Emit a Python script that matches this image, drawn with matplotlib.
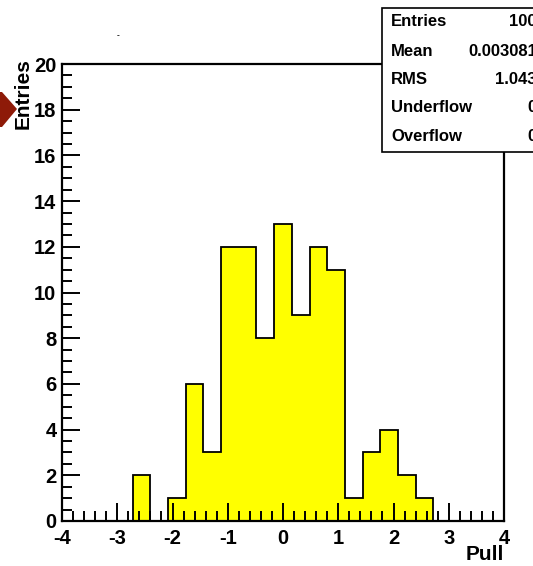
import matplotlib.pyplot as plt
import numpy as np
from matplotlib.patches import Polygon, Rectangle
from matplotlib.ticker import MultipleLocator

plt.rcParams['font.family'] = ['Liberation Sans', 'DejaVu Sans']
plt.rcParams['font.weight'] = 'bold'
plt.rcParams['axes.unicode_minus'] = False

# histogram: 25 bins from -4 to 4
bin_edges = np.linspace(-4, 4, 26)
counts = [0, 0, 0, 0, 2, 0, 1, 6, 3, 12, 12, 8, 13, 9, 12, 11, 1, 3, 4, 2, 1, 0, 0, 0, 0]

stat_names = ['Entries', 'Mean', 'RMS', 'Underflow', 'Overflow']
stat_values = ['100', '0.003081', '1.043', '0', '0']

W, H = 533, 566
fig = plt.figure(figsize=(W / 100, H / 100), dpi=100)
ax = fig.add_axes([62 / W, 1 - 521 / H, (504 - 62) / W, (521 - 64) / H])

ax.stairs(counts, bin_edges, fill=True, color='#ffff00', baseline=0)
ax.stairs(counts, bin_edges, color='black', linewidth=1.3, baseline=0)

ax.set_xlim(-4, 4)
ax.set_ylim(0, 20)
ax.xaxis.set_major_locator(MultipleLocator(1))
ax.xaxis.set_minor_locator(MultipleLocator(0.2))
ax.yaxis.set_major_locator(MultipleLocator(2))
ax.yaxis.set_minor_locator(MultipleLocator(0.5))
ax.tick_params(which='both', direction='in', top=False, right=False, width=1.4,
               labelsize=14.5)
ax.tick_params(which='major', length=13)
ax.tick_params(which='minor', length=7)
ax.tick_params(axis='x', pad=6)
ax.tick_params(axis='y', pad=4)
for lab in ax.get_xticklabels() + ax.get_yticklabels():
    lab.set_fontweight('bold')
for s in ax.spines.values():
    s.set_linewidth(1.6)

fig.text(504 / W, 1 - 555 / H, 'Pull', ha='right', va='center', fontsize=15, fontweight='bold')
fig.text(23 / W, 1 - 58 / H, 'Entries', ha='center', va='top', rotation=90,
         fontsize=15, fontweight='bold')

# red arrow marker at left
arrow = Polygon([(0, 1 - 92 / H), (2 / W, 1 - 92 / H), (17 / W, 1 - 109 / H),
                 (2 / W, 1 - 127 / H), (0, 1 - 127 / H)],
                closed=True, transform=fig.transFigure, facecolor='#8e1a08',
                edgecolor='none')
fig.patches.append(arrow)

# tiny mark near the top
fig.text(118 / W, 1 - 36 / H, '-', ha='center', va='center', fontsize=6)

# stats box
box = Rectangle((382 / W, 1 - 152 / H), (W + 20 - 382) / W, (152 - 8) / H,
                transform=fig.transFigure, facecolor='white', edgecolor='black',
                linewidth=1.2, zorder=5)
fig.patches.append(box)
row_y = [22, 51, 80, 108, 137]
for name, val, y in zip(stat_names, stat_values, row_y):
    fig.text(391 / W, 1 - y / H, name, ha='left', va='center', fontsize=12,
             fontweight='bold', zorder=6)
    fig.text(537 / W, 1 - y / H, val, ha='right', va='center', fontsize=12,
             fontweight='bold', zorder=6)

fig.savefig('out.png', dpi=100)
